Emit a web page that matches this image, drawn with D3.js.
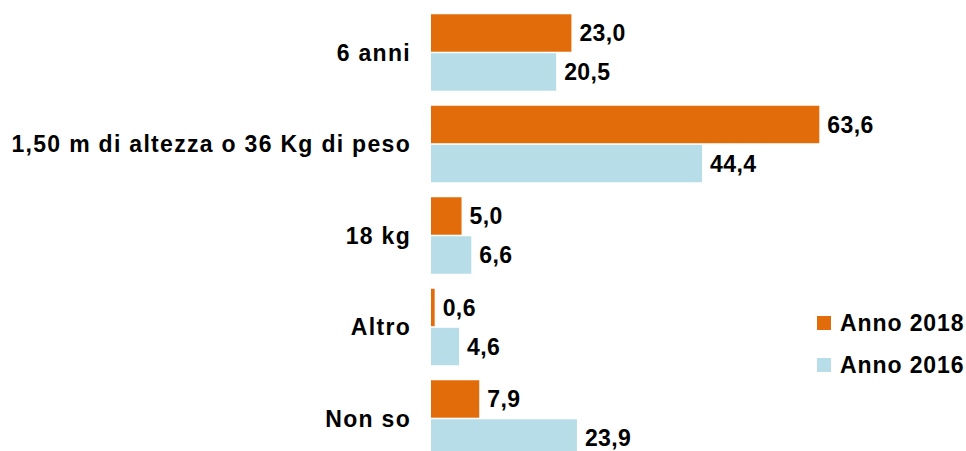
<!DOCTYPE html>
<html>
<head>
<meta charset="utf-8">
<script src="https://cdn.jsdelivr.net/npm/d3@7"></script>
<style>
  body { margin: 0; background: #fff; }
  svg text { font-family: "Liberation Sans", Arial, sans-serif; font-weight: bold; fill: #000; }
</style>
</head>
<body>
<div id="chart"></div>
<script>
// categories and series
const categories = ["6 anni", "1,50 m di altezza o 36 Kg di peso", "18 kg", "Altro", "Non so"];
const series = ["Anno 2018", "Anno 2016"];
const values2018 = [23.0, 63.6, 5.0, 0.6, 7.9];
const values2016 = [20.5, 44.4, 6.6, 4.6, 23.9];
const colors = ["#E36C0A", "#B7DEE8"];

const width = 966, height = 451;
const fmt = v => v.toFixed(1).replace(".", ",");

const svg = d3.select("#chart")
  .append("svg")
  .attr("width", width)
  .attr("height", height);

// x scale: bars start at the category axis
const x = d3.scaleLinear()
  .domain([0, 63.6])
  .range([431, 819.3]);

// one band per category, inner band per series
const y = d3.scaleBand()
  .domain(categories)
  .range([6.75, 464.25])
  .paddingInner(0.164)
  .paddingOuter(0.082);

const ySub = d3.scaleBand()
  .domain(series)
  .range([0, y.bandwidth()])
  .paddingInner(0.04);

const data = categories.map((c, i) => ({
  cat: c,
  vals: [
    {s: series[0], v: values2018[i]},
    {s: series[1], v: values2016[i]}
  ]
}));

const groups = svg.append("g")
  .selectAll("g")
  .data(data)
  .join("g")
  .attr("transform", d => `translate(0,${y(d.cat)})`);

groups.selectAll("rect")
  .data(d => d.vals)
  .join("rect")
  .attr("x", x(0))
  .attr("y", d => ySub(d.s))
  .attr("width", d => x(d.v) - x(0))
  .attr("height", ySub.bandwidth())
  .attr("fill", (d, i) => colors[i]);

// value labels
groups.selectAll("text.val")
  .data(d => d.vals)
  .join("text")
  .attr("class", "val")
  .attr("x", d => x(d.v) + 8)
  .attr("y", d => ySub(d.s) + ySub.bandwidth() / 2)
  .attr("dy", "0.36em")
  .style("font-size", "23px")
  .style("letter-spacing", "0.4px")
  .text(d => fmt(d.v));

// category labels
svg.append("g")
  .selectAll("text")
  .data(categories)
  .join("text")
  .attr("x", 411)
  .attr("y", d => y(d) + y.bandwidth() / 2)
  .attr("dy", "0.36em")
  .attr("text-anchor", "end")
  .style("font-size", "23px")
  .style("letter-spacing", "1.3px")
  .text(d => d);

// legend
const legend = svg.append("g")
  .selectAll("g")
  .data(series)
  .join("g")
  .attr("transform", (d, i) => `translate(817,${316 + i * 42})`);

legend.append("rect")
  .attr("width", 14)
  .attr("height", 14)
  .attr("fill", (d, i) => colors[i]);

legend.append("text")
  .attr("x", 23)
  .attr("y", 7)
  .attr("dy", "0.36em")
  .style("font-size", "23px")
  .style("letter-spacing", "0.9px")
  .text(d => d);
</script>
</body>
</html>
